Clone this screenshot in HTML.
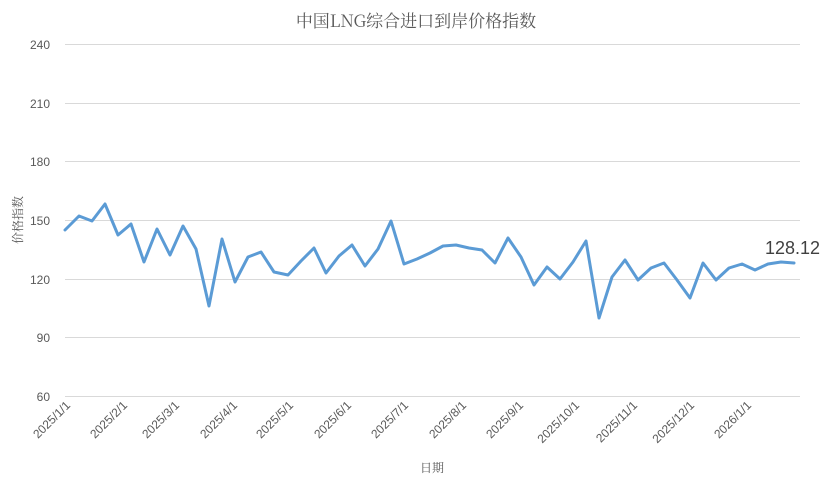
<!DOCTYPE html>
<html><head><meta charset="utf-8"><style>
html,body{margin:0;padding:0;background:#fff;}
svg{display:block;}
</style></head><body>
<svg width="832" height="488" viewBox="0 0 832 488" xmlns="http://www.w3.org/2000/svg">
<rect width="832" height="488" fill="#fff"/>
<text x="416" y="27" text-anchor="middle" font-family="'Noto Serif CJK SC','Liberation Serif',serif" font-size="17" fill="#595959">中国LNG综合进口到岸价格指数</text>
<g stroke="#d9d9d9" stroke-width="1">
<line x1="65" x2="800" y1="44.5" y2="44.5"/>
<line x1="65" x2="800" y1="103.5" y2="103.5"/>
<line x1="65" x2="800" y1="161.5" y2="161.5"/>
<line x1="65" x2="800" y1="220.5" y2="220.5"/>
<line x1="65" x2="800" y1="279.5" y2="279.5"/>
<line x1="65" x2="800" y1="337.5" y2="337.5"/>
<line x1="65" x2="800" y1="396.5" y2="396.5"/>
</g>
<g font-family="'Liberation Sans',sans-serif" font-size="12" fill="#595959" text-anchor="end">
<text x="50" y="49">240</text>
<text x="50" y="108">210</text>
<text x="50" y="166">180</text>
<text x="50" y="225">150</text>
<text x="50" y="284">120</text>
<text x="50" y="342">90</text>
<text x="50" y="401">60</text>
</g>
<g font-family="'Liberation Sans',sans-serif" font-size="12" fill="#595959" text-anchor="end">
<text transform="translate(71,406) rotate(-45)">2025/1/1</text>
<text transform="translate(128,406) rotate(-45)">2025/2/1</text>
<text transform="translate(180,406) rotate(-45)">2025/3/1</text>
<text transform="translate(238,406) rotate(-45)">2025/4/1</text>
<text transform="translate(294,406) rotate(-45)">2025/5/1</text>
<text transform="translate(352,406) rotate(-45)">2025/6/1</text>
<text transform="translate(409,406) rotate(-45)">2025/7/1</text>
<text transform="translate(467,406) rotate(-45)">2025/8/1</text>
<text transform="translate(524,406) rotate(-45)">2025/9/1</text>
<text transform="translate(580,406) rotate(-45)">2025/10/1</text>
<text transform="translate(638,406) rotate(-45)">2025/11/1</text>
<text transform="translate(695,406) rotate(-45)">2025/12/1</text>
<text transform="translate(752,406) rotate(-45)">2026/1/1</text>
</g>
<text x="432" y="472" text-anchor="middle" font-family="'Noto Serif CJK SC',serif" font-size="12" fill="#595959">日期</text>
<text transform="translate(22,220) rotate(-90)" text-anchor="middle" font-family="'Noto Serif CJK SC',serif" font-size="12" fill="#595959">价格指数</text>
<polyline fill="none" stroke="#5b9bd5" stroke-width="3" stroke-linejoin="round" stroke-linecap="round" points="65,230 79,216 92,221 105,204 118,235 131,224 144,262 157,229 170,255 183,226 196,249 209,306 222,239 235,282 248,257 261,252 274,272 288,275 301,261 314,248 326,273 339,256 352,245 365,266 378,249 391,221 404,264 417,259 430,253 443,246 456,245 469,248 482,250 495,263 508,238 521,257 534,285 547,267 560,279 573,262 586,241 599,318 612,277 625,260 638,280 651,268 664,263 677,280 690,298 703,263 716,280 729,268 742,264 755,270 768,264 781,262 794,263"/>
<text x="765" y="254" font-family="'Liberation Sans',sans-serif" font-size="18" fill="#404040">128.12</text>
</svg>
</body></html>
